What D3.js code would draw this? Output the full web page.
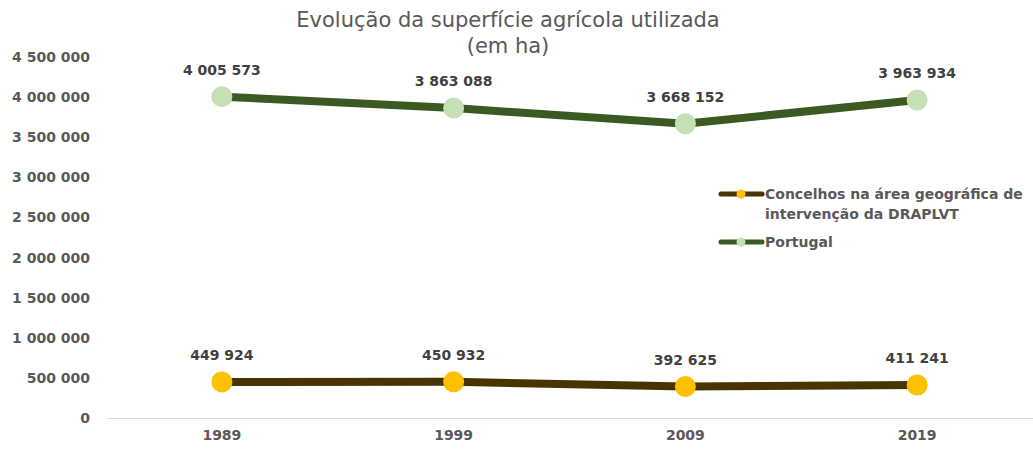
<!DOCTYPE html>
<html>
<head>
<meta charset="utf-8">
<script src="https://cdn.jsdelivr.net/npm/d3@7"></script>
<style>
  body { margin: 0; background: #fff; }
  svg text { font-family: "DejaVu Sans", Verdana, sans-serif; }
</style>
</head>
<body>
<div id="chart"></div>
<script>
// Dados
const anos = ["1989", "1999", "2009", "2019"];
const concelhos = [449924, 450932, 392625, 411241];
const portugal = [4005573, 3863088, 3668152, 3963934];
const yTicks = [0, 500000, 1000000, 1500000, 2000000, 2500000, 3000000, 3500000, 4000000, 4500000];

const width = 1033;
const height = 450;
const margin = { top: 57, right: 0, bottom: 32, left: 106 };

const fmt = v => d3.format(",")(v).replace(/,/g, " ");

const svg = d3.select("#chart")
    .append("svg")
    .attr("width", width)
    .attr("height", height);

const x = d3.scaleBand()
    .domain(anos)
    .range([margin.left, width - margin.right]);

const y = d3.scaleLinear()
    .domain([0, 4500000])
    .range([height - margin.bottom, margin.top]);

// titulo
svg.append("text")
    .attr("x", 508).attr("y", 27)
    .attr("text-anchor", "middle")
    .attr("font-size", 21)
    .attr("fill", "#595959")
    .text("Evolução da superfície agrícola utilizada");
svg.append("text")
    .attr("x", 508).attr("y", 53)
    .attr("text-anchor", "middle")
    .attr("font-size", 21)
    .attr("fill", "#595959")
    .text("(em ha)");

// eixo Y
const yAxis = svg.append("g")
    .attr("transform", `translate(${margin.left},0)`)
    .call(d3.axisLeft(y).tickValues(yTicks).tickFormat(fmt).tickSize(0).tickPadding(16));
yAxis.select(".domain").remove();
yAxis.selectAll("text")
    .attr("font-size", 14)
    .attr("font-weight", "bold")
    .attr("fill", "#595959");

// eixo X
const xAxis = svg.append("g")
    .attr("transform", `translate(0,${height - margin.bottom})`)
    .call(d3.axisBottom(x).tickSize(0).tickPadding(12));
xAxis.select(".domain").attr("stroke", "#d9d9d9").attr("stroke-width", 1);
xAxis.selectAll("text")
    .attr("font-size", 14)
    .attr("font-weight", "bold")
    .attr("fill", "#595959");

const cx = d => x(d) + x.bandwidth() / 2;

const series = [
    { nome: "Concelhos", valores: concelhos, linha: "#473400", ponto: "#ffc000" },
    { nome: "Portugal", valores: portugal, linha: "#3b5a21", ponto: "#c5e0b4" }
];

const linha = d3.line()
    .x((d, i) => cx(anos[i]))
    .y(d => y(d));

series.forEach(s => {
    svg.append("path")
        .datum(s.valores)
        .attr("fill", "none")
        .attr("stroke", s.linha)
        .attr("stroke-width", 8)
        .attr("d", linha);

    svg.selectAll(null)
        .data(s.valores)
        .join("circle")
        .attr("cx", (d, i) => cx(anos[i]))
        .attr("cy", d => y(d))
        .attr("r", 10.5)
        .attr("fill", s.ponto);

    svg.selectAll(null)
        .data(s.valores)
        .join("text")
        .attr("x", (d, i) => cx(anos[i]))
        .attr("y", d => y(d) - 22)
        .attr("text-anchor", "middle")
        .attr("font-size", 14)
        .attr("font-weight", "bold")
        .attr("fill", "#404040")
        .text(d => fmt(d));
});

// legenda
const leg = svg.append("g");
const legItems = [
    { linhas: ["Concelhos na área geográfica de", "intervenção da DRAPLVT"], cor: series[0].linha, ponto: series[0].ponto, y: 194 },
    { linhas: ["Portugal"], cor: series[1].linha, ponto: series[1].ponto, y: 242 }
];
legItems.forEach(it => {
    leg.append("line")
        .attr("x1", 721).attr("x2", 762)
        .attr("y1", it.y).attr("y2", it.y)
        .attr("stroke", it.cor).attr("stroke-width", 5)
        .attr("stroke-linecap", "round");
    leg.append("circle")
        .attr("cx", 741).attr("cy", it.y).attr("r", 4.5)
        .attr("fill", it.ponto);
    const t = leg.append("text")
        .attr("x", 765).attr("y", it.y + 5)
        .attr("font-size", 14)
        .attr("font-weight", "bold")
        .attr("fill", "#595959");
    it.linhas.forEach((l, i) => {
        t.append("tspan").attr("x", 765).attr("dy", i === 0 ? 0 : 20).text(l);
    });
});
</script>
</body>
</html>
